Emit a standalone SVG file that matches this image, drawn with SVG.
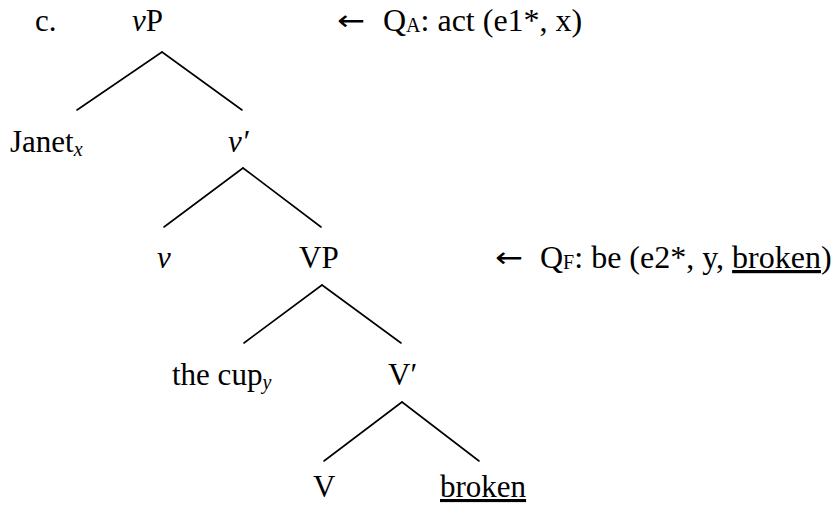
<svg xmlns="http://www.w3.org/2000/svg" width="837" height="506" viewBox="0 0 837 506">
<style>
text{font-family:"Liberation Serif","Times New Roman",serif;font-size:31px;fill:#000}
.note{font-size:32px}
.i{font-style:italic}
.sub{font-size:20px}
.arr{font-family:"DejaVu Sans",sans-serif;font-size:28px}
line{stroke:#000;stroke-width:1.6;stroke-linecap:round}
.ul{text-decoration:underline}
</style>
<rect width="837" height="506" fill="#fff"/>
<g id="label-c"><text x="35" y="31">c.</text></g>
<g id="node-vP"><text x="132" y="31"><tspan class="i">v</tspan>P</text></g>
<g id="note-QA"><text class="arr" x="337" y="30" textLength="28" lengthAdjust="spacingAndGlyphs">←</text><text class="note" x="383" y="31">Q<tspan class="sub" dy="1">A</tspan><tspan dy="-1">: act (e1*, x)</tspan></text></g>
<g id="node-Janet"><text x="10" y="152">Janet<tspan class="sub i" dy="4">x</tspan></text></g>
<g id="node-vbar"><text x="228" y="152" class="i">v′</text></g>
<g id="node-v"><text x="157" y="268" class="i">v</text></g>
<g id="node-VP"><text x="299" y="268">VP</text></g>
<g id="note-QF"><text class="arr" x="495" y="267" textLength="28" lengthAdjust="spacingAndGlyphs">←</text><text class="note" x="540" y="268">Q<tspan class="sub" dy="1">F</tspan><tspan dy="-1">: be (e2*, y, </tspan><tspan class="ul">broken</tspan>)</text></g>
<g id="node-thecup"><text x="172" y="385">the cup<tspan class="sub i" dy="4">y</tspan></text></g>
<g id="node-Vbar"><text x="388" y="385">V′</text></g>
<g id="node-V"><text x="313" y="497">V</text></g>
<g id="node-broken"><text x="440" y="497" class="ul">broken</text></g>
<g id="connectors">
<line x1="162" y1="52" x2="77" y2="110"/>
<line x1="162" y1="52" x2="242" y2="110"/>
<line x1="243" y1="168" x2="164" y2="227"/>
<line x1="243" y1="168" x2="321" y2="227"/>
<line x1="322" y1="285" x2="244" y2="343"/>
<line x1="322" y1="285" x2="401" y2="343"/>
<line x1="402" y1="402" x2="324" y2="461"/>
<line x1="402" y1="402" x2="479" y2="461"/>
</g>
</svg>
